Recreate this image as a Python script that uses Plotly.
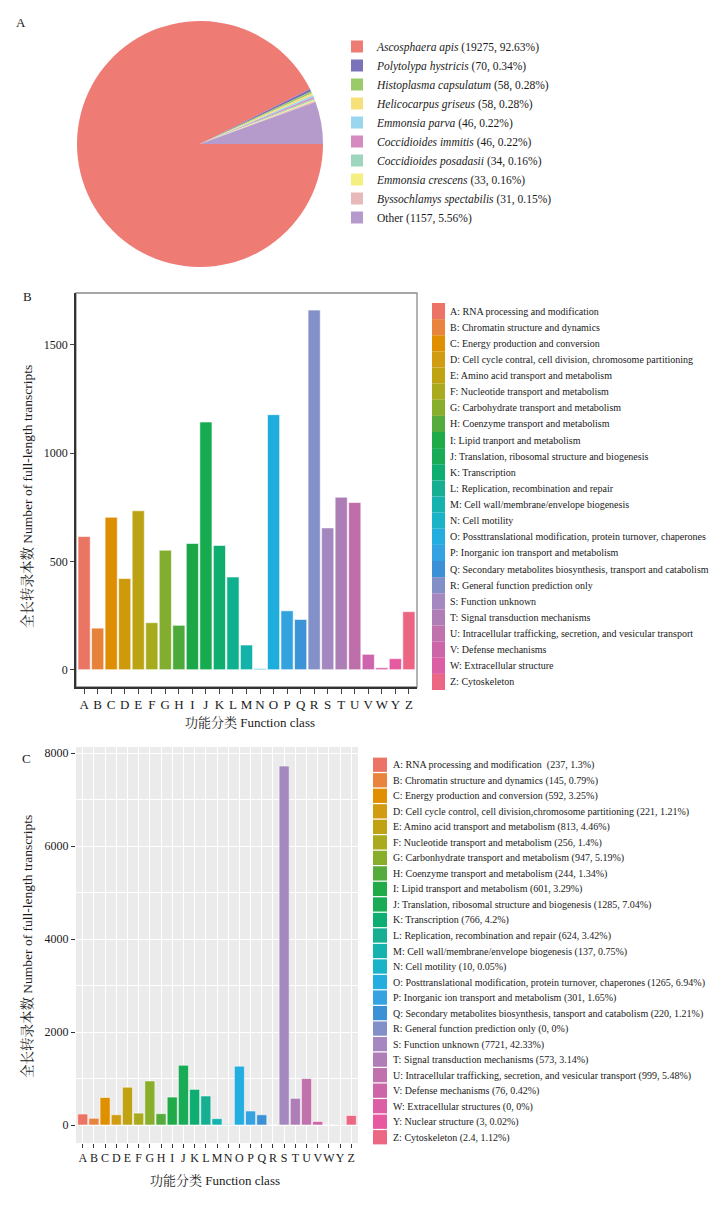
import plotly.graph_objects as go

# Page body has an 8px margin: figure is sized so that it ends at the window edge,
# and all reference-pixel positions are shifted by that offset.
OFF = 8
W, H = 719 - OFF, 1215 - OFF
def px(x):
    return (x - OFF) / W
def py(y):
    return 1 - (y - OFF) / H

SERIF = "Liberation Serif, Times New Roman, Noto Serif CJK SC, Noto Sans CJK SC, serif"
TXT = "#1a1a1a"

# ---------------- Panel A data ----------------
species = ["Ascosphaera apis", "Polytolypa hystricis", "Histoplasma capsulatum",
           "Helicocarpus griseus", "Emmonsia parva", "Coccidioides immitis",
           "Coccidioides posadasii", "Emmonsia crescens", "Byssochlamys spectabilis", "Other"]
species_counts = [19275, 70, 58, 58, 46, 46, 34, 33, 31, 1157]
species_pct = ["92.63%", "0.34%", "0.28%", "0.28%", "0.22%", "0.22%", "0.16%", "0.16%", "0.15%", "5.56%"]
species_colors = ["#EE7B74", "#7B73B9", "#9BCB69", "#F7DF7A", "#9AD7EE",
                  "#D58BC0", "#9ED6BD", "#F4EF80", "#E9B9B9", "#B59BCB"]

# ---------------- Panel B data ----------------
b_classes = list("ABCDEFGHIJKLMNOPQRSTUVWYZ")
b_values = [615, 192, 704, 421, 734, 217, 552, 205, 583, 1144, 574, 428, 114, 5,
            1178, 272, 232, 1661, 655, 797, 772, 71, 9, 51, 268]
b_colors = ["#EB7563", "#E6823A", "#DF8D02", "#CE9A0C", "#BCA314", "#A6AB1E", "#83AD2E",
            "#4DA93A", "#1BA748", "#17AB50", "#0FAE6E", "#0FB08D", "#14B3A9", "#17B4C6",
            "#1FADDB", "#33A3DF", "#3C94D7", "#8491C8", "#A388BF", "#AD7EB6", "#BE6EA8",
            "#CE64AB", "#DE5EA4", "#E65BA0", "#EC6683"]
b_legend = [
    "A: RNA processing and modification",
    "B: Chromatin structure and dynamics",
    "C: Energy production and conversion",
    "D: Cell cycle contral, cell division, chromosome partitioning",
    "E: Amino acid transport and metabolism",
    "F: Nucleotide transport and metabolism",
    "G: Carbohydrate transport and metabolism",
    "H: Coenzyme transport and metabolism",
    "I: Lipid tranport and metabolism",
    "J: Translation, ribosomal structure and biogenesis",
    "K: Transcription",
    "L: Replication, recombination and repair",
    "M: Cell wall/membrane/envelope biogenesis",
    "N: Cell motility",
    "O: Possttranslational modification, protein turnover, chaperones",
    "P: Inorganic ion transport and metabolism",
    "Q: Secondary metabolites biosynthesis, transport and catabolism",
    "R: General function prediction only",
    "S: Function unknown",
    "T: Signal transduction mechanisms",
    "U: Intracellular trafficking, secretion, and vesicular transport",
    "V: Defense mechanisms",
    "W: Extracellular structure",
    "Z: Cytoskeleton",
]
b_legend_colors = ["#EC7467", "#E8843E", "#E08F00", "#D29C12", "#C0A312", "#A9AA1D",
                   "#88AE2C", "#55AC3C", "#20AA48", "#1AAB56", "#0EAD72", "#16AF91",
                   "#16B2AE", "#1AB3C8", "#24AEDF", "#35A3E2", "#3C91D6", "#8390C8",
                   "#A588BF", "#B07EB7", "#BF72AB", "#CD65A9", "#DC5EA4", "#EC6783"]

# ---------------- Panel C data ----------------
c_classes = list("ABCDEFGHIJKLMNOPQRSTUVWYZ")
c_values = [237, 145, 592, 221, 813, 256, 947, 244, 601, 1285, 766, 624, 137, 10,
            1265, 301, 220, 0, 7721, 573, 999, 76, 0, 3, 204]
c_colors = ["#EC7467", "#E8843E", "#E08F00", "#D29C12", "#C0A312", "#A9AA1D",
            "#88AE2C", "#55AC3C", "#20AA48", "#1AAB56", "#0EAD72", "#16AF91",
            "#16B2AE", "#1AB3C8", "#24AEDF", "#35A3E2", "#3C91D6", "#8390C8",
            "#A588BF", "#B07EB7", "#BF72AB", "#CD65A9", "#DC5EA4", "#E85A9F", "#EC6783"]
c_legend = [
    "A: RNA processing and modification  (237, 1.3%)",
    "B: Chromatin structure and dynamics (145, 0.79%)",
    "C: Energy production and conversion (592, 3.25%)",
    "D: Cell cycle control, cell division,chromosome partitioning (221, 1.21%)",
    "E: Amino acid transport and metabolism (813, 4.46%)",
    "F: Nucleotide transport and metabolism (256, 1.4%)",
    "G: Carbonhydrate transport and metabolism (947, 5.19%)",
    "H: Coenzyme transport and metabolism (244, 1.34%)",
    "I: Lipid transport and metabolism (601, 3.29%)",
    "J: Translation, ribosomal structure and biogenesis (1285, 7.04%)",
    "K: Transcription (766, 4.2%)",
    "L: Replication, recombination and repair (624, 3.42%)",
    "M: Cell wall/membrane/envelope biogenesis (137, 0.75%)",
    "N: Cell motility (10, 0.05%)",
    "O: Posttranslational modification, protein turnover, chaperones (1265, 6.94%)",
    "P: Inorganic ion transport and metabolism (301, 1.65%)",
    "Q: Secondary metabolites biosynthesis, tansport and catabolism (220, 1.21%)",
    "R: General function prediction only (0, 0%)",
    "S: Function unknown (7721, 42.33%)",
    "T: Signal transduction mechanisms (573, 3.14%)",
    "U: Intracellular trafficking, secretion, and vesicular transport (999, 5.48%)",
    "V: Defense mechanisms (76, 0.42%)",
    "W: Extracellular structures (0, 0%)",
    "Y: Nuclear structure (3, 0.02%)",
    "Z: Cytoskeleton (2.4, 1.12%)",
]

fig = go.Figure()

# ---------------- Panel A: pie ----------------
pie_labels = [("%s (%d, %s)" % (s, c, p)) if s == "Other" else ("<i>%s</i> (%d, %s)" % (s, c, p))
              for s, c, p in zip(species, species_counts, species_pct)]
fig.add_trace(go.Pie(
    labels=pie_labels, values=species_counts, sort=False, direction="clockwise",
    rotation=90, textinfo="none", hoverinfo="label",
    marker=dict(colors=species_colors, line=dict(width=0)),
    domain=dict(x=[px(77), px(323)], y=[py(267), py(21)]),
    showlegend=True,
))

# ---------------- Panel B: bars ----------------
fig.add_trace(go.Bar(
    x=b_classes, y=b_values,
    marker=dict(color=b_colors, line=dict(color="rgba(255,255,255,0.6)", width=1)),
    width=0.9, xaxis="x", yaxis="y", showlegend=False,
))
fig.add_trace(go.Bar(
    x=[1] * len(b_legend), y=b_legend, orientation="h",
    marker=dict(color=b_legend_colors, line=dict(width=0)), width=1.0,
    xaxis="x2", yaxis="y2", showlegend=False,
))

# ---------------- Panel C: bars ----------------
fig.add_trace(go.Bar(
    x=c_classes, y=c_values,
    marker=dict(color=c_colors, line=dict(color="rgba(255,255,255,0.55)", width=1)),
    width=0.9, xaxis="x3", yaxis="y3", showlegend=False,
))
fig.add_trace(go.Bar(
    x=[1] * len(c_legend), y=c_legend, orientation="h",
    marker=dict(color=c_colors, line=dict(width=0)), width=0.92,
    xaxis="x4", yaxis="y4", showlegend=False,
))

tickfont = dict(family=SERIF, size=12, color=TXT)

fig.update_layout(
    width=W, height=H, margin=dict(l=0, r=0, t=0, b=0),
    paper_bgcolor="white", plot_bgcolor="white",
    font=dict(family=SERIF, color=TXT),
    legend=dict(x=px(337), xanchor="left", y=py(32), yanchor="top",
                font=dict(family=SERIF, size=11.5, color=TXT),
                bgcolor="rgba(0,0,0,0)", tracegroupgap=0),
    # Panel B
    xaxis=dict(domain=[px(76), px(417)], anchor="y", type="category",
               categoryorder="array", categoryarray=b_classes, range=[-0.6, 24.6],
               tickmode="array", tickvals=b_classes, tickangle=0,
               showline=True, linecolor="#333333", linewidth=1.5,
               ticks="outside", ticklen=5, tickcolor="#444444", showgrid=False,
               tickfont=dict(family=SERIF, size=13, color=TXT)),
    yaxis=dict(domain=[py(687), py(293)], anchor="x", range=[-80, 1740],
               tickvals=[0, 500, 1000, 1500], showline=True, linecolor="#333333",
               linewidth=1.5, ticks="outside", ticklen=4, tickcolor="#444444",
               showgrid=False, zeroline=False, tickfont=tickfont),
    xaxis2=dict(domain=[px(432), px(445)], anchor="y2", range=[0, 1], visible=False),
    yaxis2=dict(domain=[py(690), py(303)], anchor="x2", type="category",
                categoryorder="array", categoryarray=b_legend, autorange="reversed",
                side="right", showline=False, showgrid=False, zeroline=False, ticks="",
                ticklabelstandoff=4,
                tickfont=dict(family=SERIF, size=10, color=TXT)),
    # Panel C
    xaxis3=dict(domain=[px(76), px(358)], anchor="y3", type="category",
                categoryorder="array", categoryarray=c_classes, range=[-0.6, 24.6],
                tickmode="array", tickvals=c_classes, tickangle=0,
                showline=False, ticks="outside", ticklen=4, tickcolor="#333333",
                showgrid=True, gridcolor="white", gridwidth=1.1,
                tickfont=dict(family=SERIF, size=12, color=TXT)),
    yaxis3=dict(domain=[py(1143), py(747)], anchor="x3", range=[-387, 8130],
                tickmode="linear", tick0=0, dtick=2000, showline=False,
                ticks="outside", ticklen=4, tickcolor="#333333",
                showgrid=True, gridcolor="white", gridwidth=1.1, zeroline=False,
                minor=dict(tick0=0, dtick=1000, showgrid=True, gridcolor="white",
                           gridwidth=0.5, ticks=""),
                tickfont=tickfont),
    xaxis4=dict(domain=[px(373), px(387)], anchor="y4", range=[0, 1], visible=False),
    yaxis4=dict(domain=[py(1145), py(757)], anchor="x4", type="category",
                categoryorder="array", categoryarray=c_legend, autorange="reversed",
                side="right", showline=False, showgrid=False, zeroline=False, ticks="",
                ticklabelstandoff=5,
                tickfont=dict(family=SERIF, size=10, color=TXT)),
    shapes=[
        dict(type="rect", xref="x3 domain", yref="y3 domain", x0=0, x1=1, y0=0, y1=1,
             fillcolor="#EBEBEB", line=dict(width=0), layer="below"),
        dict(type="rect", xref="x domain", yref="y domain", x0=0, x1=1, y0=0, y1=1,
             fillcolor="rgba(0,0,0,0)", line=dict(color="#8a8a8a", width=1.3), layer="below"),
    ],
)

ann = []
def add_text(text, x, y, size, angle=0):
    ann.append(dict(text=text, x=px(x), y=py(y), xref="paper", yref="paper",
                    showarrow=False, textangle=angle, xanchor="center", yanchor="middle",
                    font=dict(family=SERIF, size=size, color=TXT)))

add_text("A", 21, 23, 13)
add_text("B", 27, 296, 13)
add_text("C", 26, 758, 13)
add_text("功能分类 Function class", 250, 722, 13)
add_text("全长转录本数 Number of full-length transcripts", 27, 497, 13.5, -90)
add_text("功能分类 Function class", 215, 1180, 13)
add_text("全长转录本数 Number of full-length transcripts", 27, 947, 13.5, -90)
fig.update_layout(annotations=ann)

fig.write_html("out.html")
